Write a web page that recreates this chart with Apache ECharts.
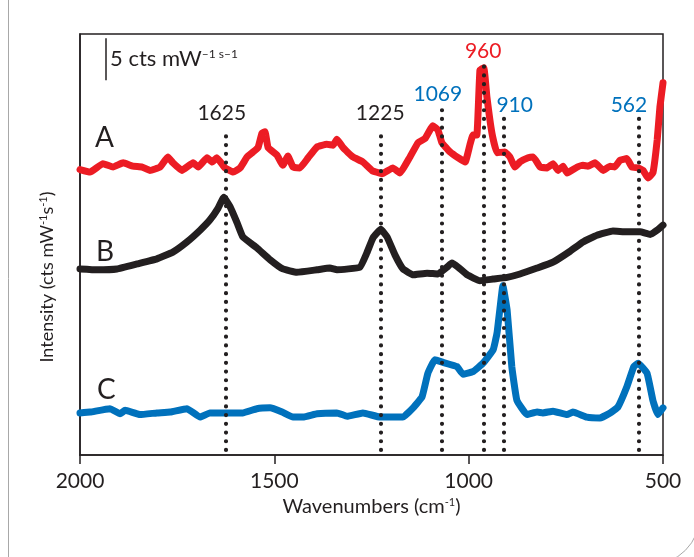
<!DOCTYPE html>
<html>
<head>
<meta charset="utf-8">
<title>Raman spectra</title>
<script src="https://cdn.jsdelivr.net/npm/echarts@6/dist/echarts.min.js"></script>
<style>
  html, body { margin: 0; padding: 0; background: #fff; }
  #chart { width: 694px; height: 557px; }
</style>
</head>
<body>
<div id="chart"></div>
<script>
  // spectrum A (red)
  const wnA = [2000, 1974, 1941, 1915, 1889, 1864, 1840, 1820, 1794, 1774, 1761, 1738, 1709, 1696, 1673, 1660, 1648, 1627, 1606, 1588,
    1570, 1557, 1542, 1532, 1524, 1516, 1493, 1478, 1465, 1452, 1434, 1413, 1390, 1365, 1349, 1339, 1323, 1298, 1272, 1249,
    1223, 1195, 1177, 1151, 1130, 1112, 1092, 1079, 1069, 1048, 1027, 1009, 997, 989, 979, 971, 961, 953, 940, 927,
    907, 894, 881, 868, 847, 834, 816, 798, 783, 770, 757, 747, 721, 706, 693, 675, 654, 636, 624, 611,
    593, 580, 564, 551, 539, 526, 515, 508, 500]
  const intA = [33.9, 33.6, 34.6, 34.2, 34.7, 34.3, 34.2, 33.8, 34.2, 35.4, 34.7, 33.8, 34.7, 34.2, 35.3, 34.8, 35.3, 34.1, 33.6, 34.1,
    35.4, 35.9, 36.5, 38.2, 38.4, 36.5, 35.6, 34.4, 35.5, 34.2, 34.1, 35.3, 36.6, 36.9, 36.8, 37.5, 36.5, 35.4, 34.8, 33.8,
    33.4, 34.1, 33.5, 35.4, 37.1, 37.6, 39.1, 38.6, 37.1, 36.0, 35.3, 34.8, 36.8, 38.0, 38.0, 45.7, 46.0, 42.5, 38.2, 35.9,
    36.0, 35.4, 34.2, 34.8, 35.3, 35.4, 34.2, 34.1, 34.6, 33.8, 34.3, 33.5, 34.2, 34.4, 34.3, 34.7, 33.8, 34.3, 34.2, 35.0,
    35.2, 34.2, 34.1, 33.8, 32.9, 33.5, 37.4, 41.3, 44.2]

  // spectrum B (black)
  const wnB = [2000, 1956, 1905, 1853, 1802, 1761, 1725, 1691, 1666, 1645, 1630, 1614, 1596, 1581, 1545, 1511, 1478, 1442, 1390, 1357,
    1339, 1280, 1262, 1246, 1226, 1210, 1190, 1169, 1143, 1107, 1079, 1056, 1043, 1027, 1004, 971, 937, 901, 868, 824,
    783, 739, 706, 670, 629, 593, 559, 533, 515, 500]
  const intB = [22.1, 22.0, 22.1, 22.7, 23.3, 24.1, 25.3, 26.7, 27.9, 29.3, 30.6, 29.5, 27.6, 25.9, 24.6, 23.2, 22.1, 21.7, 22.0, 22.2,
    22.0, 22.3, 24.0, 25.8, 26.8, 25.9, 23.8, 22.1, 21.4, 21.6, 21.5, 22.3, 22.8, 22.3, 21.4, 20.7, 20.9, 21.1, 21.5, 22.2,
    22.9, 24.2, 25.3, 26.1, 26.6, 26.5, 26.5, 26.2, 26.7, 27.3]

  // spectrum C (blue)
  const wnC = [2000, 1974, 1923, 1897, 1884, 1846, 1802, 1768, 1725, 1691, 1666, 1622, 1581, 1545, 1511, 1480, 1452, 1426, 1390, 1339,
    1313, 1272, 1228, 1202, 1169, 1143, 1120, 1105, 1087, 1066, 1030, 1015, 989, 963, 937, 927, 919, 912, 901, 889,
    876, 850, 824, 809, 783, 747, 732, 696, 662, 636, 616, 593, 575, 564, 541, 526, 513, 500]
  const intC = [5.0, 5.1, 5.5, 4.9, 5.3, 4.8, 5.0, 5.1, 5.5, 4.5, 5.0, 5.0, 5.0, 5.5, 5.6, 5.1, 4.5, 4.5, 4.9, 5.0,
    4.6, 5.0, 4.5, 4.5, 4.5, 5.6, 6.9, 9.7, 11.3, 11.0, 10.5, 9.6, 9.9, 10.9, 12.5, 14.5, 17.6, 20.1, 17.2, 10.5,
    6.5, 4.8, 5.1, 5.0, 5.2, 4.8, 5.1, 4.5, 4.4, 5.0, 5.7, 8.1, 10.5, 10.9, 9.7, 6.5, 4.8, 5.6]

  // marked bands
  const peaks = [1625, 1225, 1069, 960, 910, 562]
  const peakTops = [38.8, 38.8, 41.0, 46.8, 40.1, 40.1]
  const peakColors = ['#231F20', '#231F20', '#0071BC', '#EC1C24', '#0071BC', '#0071BC']
  const xTicks = [2000, 1500, 1000, 500]

  const RED = '#EC1C24'
  const BLACK = '#231F20'
  const BLUE = '#0071BC'
  const FONT = 'Lato, "Open Sans", sans-serif'

  // label nudges (px) relative to the top of each dotted line
  const labelOffsets = [[-4, -15], [-1, -15], [-4, -16], [-1, -10], [11, -12], [-10, -12]]

  function zip (xs, ys) {
    return xs.map((x, i) => [x, ys[i]])
  }

  function trace (name, xs, ys, color) {
    return {
      name: name,
      type: 'line',
      data: zip(xs, ys),
      symbol: 'none',
      smooth: 0.1,
      lineStyle: { color: color, width: 7, cap: 'round', join: 'round' },
      z: 3
    }
  }

  const chart = echarts.init(document.getElementById('chart'))
  const option = {
    backgroundColor: '#fff',
    animation: false,
    textStyle: { fontFamily: FONT },
    grid: {
      left: 80, right: 31, top: 34, bottom: 102,
      show: true, borderColor: BLACK, borderWidth: 1.5
    },
    xAxis: {
      type: 'value',
      inverse: true,
      min: 500,
      max: 2000,
      interval: 500,
      name: 'Wavenumbers (cm{sup|-1})',
      nameLocation: 'middle',
      nameGap: 41,
      nameTextStyle: {
        color: BLACK, fontSize: 20, fontFamily: FONT,
        rich: { sup: { fontSize: 11, verticalAlign: 'top', color: BLACK, fontFamily: FONT } }
      },
      axisLine: { lineStyle: { color: BLACK, width: 1.5 } },
      axisTick: { show: true, length: 9, lineStyle: { color: BLACK, width: 1.5 } },
      axisLabel: {
        color: BLACK, fontSize: 21, margin: 16, fontFamily: FONT,
        formatter: v => (xTicks.indexOf(v) >= 0 ? String(v) : '')
      },
      splitLine: { show: false }
    },
    yAxis: {
      type: 'value',
      min: 0,
      max: 50,
      axisLine: { show: true, lineStyle: { color: BLACK, width: 1.5 } },
      axisTick: { show: false },
      axisLabel: { show: false },
      splitLine: { show: false }
    },
    series: [
      trace('A', wnA, intA, RED),
      trace('B', wnB, intB, BLACK),
      trace('C', wnC, intC, BLUE),
      {
        // dotted band markers, their labels and the scale bar
        name: 'marks',
        type: 'line',
        data: [],
        z: 10,
        markLine: {
          silent: true,
          symbol: 'none',
          animation: false,
          label: { show: false },
          data: peaks.map((p, i) => [
            { coord: [p, 0.6], lineStyle: { color: BLACK, width: 4.2, type: [0.01, 8.7], cap: 'round' } },
            { coord: [p, peakTops[i]] }
          ]).concat([[
            { coord: [1933, 44.5], lineStyle: { color: BLACK, width: 1.5, type: 'solid' } },
            { coord: [1933, 49.5] }
          ]])
        },
        markPoint: {
          silent: true,
          symbol: 'circle',
          symbolSize: 0,
          animation: false,
          data: peaks.map((p, i) => ({
            coord: [p, peakTops[i]],
            label: {
              show: true,
              position: 'inside',
              offset: labelOffsets[i],
              formatter: String(p),
              color: peakColors[i],
              fontSize: 21,
              fontFamily: FONT
            }
          }))
        }
      }
    ],
    graphic: [
      // outer figure frame: left edge and bottom-right rounded corner
      {
        type: 'line',
        silent: true,
        shape: { x1: 8.5, y1: 0, x2: 8.5, y2: 557 },
        style: { stroke: '#a8a8a8', lineWidth: 1 },
        z: -1
      },
      {
        type: 'arc',
        silent: true,
        shape: { cx: 650, cy: 515, r: 50, startAngle: 0, endAngle: Math.PI / 2 },
        style: { stroke: '#a8a8a8', lineWidth: 1, fill: 'none' },
        z: -1
      },
      // y axis title
      {
        type: 'text',
        x: 47,
        y: 277,
        rotation: Math.PI / 2,
        style: {
          text: '{n|Intensity (cts mW}{s|-1}{n|s}{s|-1}{n|)}',
          align: 'center',
          verticalAlign: 'middle',
          rich: {
            n: { fontSize: 18, fontFamily: FONT, fill: BLACK },
            s: { fontSize: 11, fontFamily: FONT, fill: BLACK, verticalAlign: 'top' }
          }
        }
      },
      { type: 'text', left: 95, top: 124, style: { text: 'A', fontSize: 28, fill: BLACK, fontFamily: FONT } },
      { type: 'text', left: 96, top: 238, style: { text: 'B', fontSize: 28, fill: BLACK, fontFamily: FONT } },
      { type: 'text', left: 97, top: 376, style: { text: 'C', fontSize: 28, fill: BLACK, fontFamily: FONT } },
      {
        type: 'text',
        left: 110,
        top: 48,
        style: {
          text: '{a|5 cts mW}{b|–1 s–1}',
          fill: BLACK,
          rich: {
            a: { fontSize: 22, fontFamily: FONT, fill: BLACK },
            b: { fontSize: 12, fontFamily: FONT, fill: BLACK, verticalAlign: 'top' }
          }
        }
      }
    ]
  }
  chart.setOption(option)
  window.addEventListener('resize', chart.resize)
</script>
</body>
</html>
